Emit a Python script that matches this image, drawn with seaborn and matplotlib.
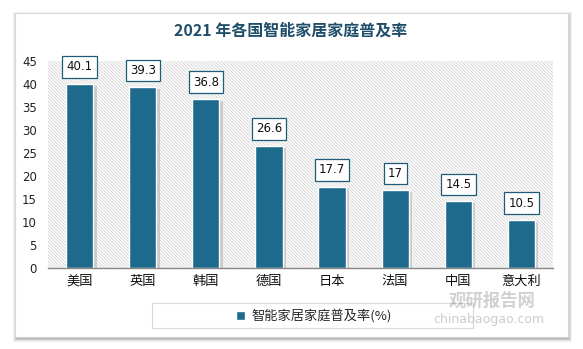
import matplotlib
matplotlib.use("Agg")
import matplotlib.pyplot as plt
import seaborn as sns
import pandas as pd
from matplotlib.patches import Rectangle
from matplotlib import patheffects as pe

countries = ["美国", "英国", "韩国", "德国", "日本", "法国", "中国", "意大利"]
rates = [40.1, 39.3, 36.8, 26.6, 17.7, 17, 14.5, 10.5]
value_labels = ["40.1", "39.3", "36.8", "26.6", "17.7", "17", "14.5", "10.5"]
series_name = "智能家居家庭普及率(%)"
title = "2021 年各国智能家居家庭普及率"
yticks = [0, 5, 10, 15, 20, 25, 30, 35, 40, 45]

sns.set_theme(style="white")
plt.rcParams['font.family'] = ['Noto Sans CJK SC', 'DejaVu Sans']
plt.rcParams['hatch.color'] = '#d9d9d9'
plt.rcParams['hatch.linewidth'] = 0.7

BAR = '#1d6a8c'
W, H = 583, 349
fig = plt.figure(figsize=(W / 100, H / 100), dpi=100)
fig.patch.set_facecolor('white')

def fx(x): return x / W
def fy(y): return 1 - y / H

# card with shadow
for i, a in enumerate([0.05, 0.07, 0.09, 0.12]):
    off = 4 - i
    fig.patches.append(Rectangle((fx(15 - off + 2), fy(337 + off + 1)), fx(553 + 2 * off - 2), (322 + 2 * off) / H,
                                 transform=fig.transFigure, facecolor='black', alpha=a, edgecolor='none', zorder=0))
fig.patches.append(Rectangle((fx(15), fy(337)), fx(553), 324 / H, transform=fig.transFigure,
                             facecolor='white', edgecolor='#d8d8d8', lw=0.8, zorder=1))

ax = fig.add_axes([fx(48), fy(268), fx(553 - 48), (268 - 61) / H])
ax.set_zorder(2)
ax.patch.set_alpha(0)
ax.add_patch(Rectangle((0, 0), 1, 1, transform=ax.transAxes, facecolor='white',
                       edgecolor='#d9d9d9', hatch='\\' * 10, lw=0, zorder=0))

df = pd.DataFrame({"country": countries, "rate": rates})
sns.barplot(data=df, x="country", y="rate", color=BAR, saturation=1, width=0.43, ax=ax, zorder=3)
for p in ax.patches:
    if p.get_height() > 0 and p.get_facecolor()[0] < 0.5:
        p.set_path_effects([pe.SimplePatchShadow(offset=(2.5, -1.5), shadow_rgbFace='#888888', alpha=0.35), pe.Normal()])

for i, (v, lab) in enumerate(zip(rates, value_labels)):
    ax.annotate(lab, (i, v), xytext=(0, 12), textcoords='offset points', ha='center', va='center',
                fontsize=8.5, color='#111111', family=['DejaVu Sans'], zorder=5,
                bbox=dict(boxstyle='square,pad=0.35', fc='white', ec='#1d5c78', lw=0.9))

ax.set_ylim(0, 45)
ax.set_xlim(-0.5, len(countries) - 0.5)
ax.set_yticks(yticks)
ax.set_yticklabels([str(t) for t in yticks], fontsize=8.5, color='#222222', family=['DejaVu Sans'])
ax.tick_params(axis='x', labelsize=9.5, colors='#111111', length=0, pad=5)
ax.tick_params(axis='y', length=0, pad=8)
ax.set_xlabel("")
ax.set_ylabel("")
for s in ['top', 'right', 'left']:
    ax.spines[s].set_visible(False)
ax.spines['bottom'].set_color('#888888')
ax.spines['bottom'].set_linewidth(1.0)
ax.spines['bottom'].set_zorder(4)

fig.text(fx(291), fy(31), title, ha='center', va='center', fontsize=11.5, fontweight='bold', color='#1f4e6b', zorder=3)

# legend frame
fig.patches.append(Rectangle((fx(152), fy(328)), fx(473 - 152), 25 / H, transform=fig.transFigure,
                             facecolor='white', edgecolor='#d9d9d9', lw=0.8, zorder=2))
handle = Rectangle((0, 0), 1, 1, facecolor=BAR)
leg = fig.legend([handle], [series_name], loc='center', bbox_to_anchor=(fx(314), fy(316)),
                 frameon=False, fontsize=9.5, handlelength=0.7, handleheight=0.7, handletextpad=0.5)
leg.set_zorder(3)

# watermark
fig.text(fx(492), fy(301), "观研报告网", ha='center', va='center', fontsize=12.5, fontweight='bold',
         color='#9a9a9a', alpha=0.45, zorder=6)
fig.text(fx(489), fy(319), "chinabaogao.com", ha='center', va='center', fontsize=9,
         color='#9a9a9a', alpha=0.5, zorder=6, family=['DejaVu Sans'])

fig.savefig("out.png", dpi=100)
